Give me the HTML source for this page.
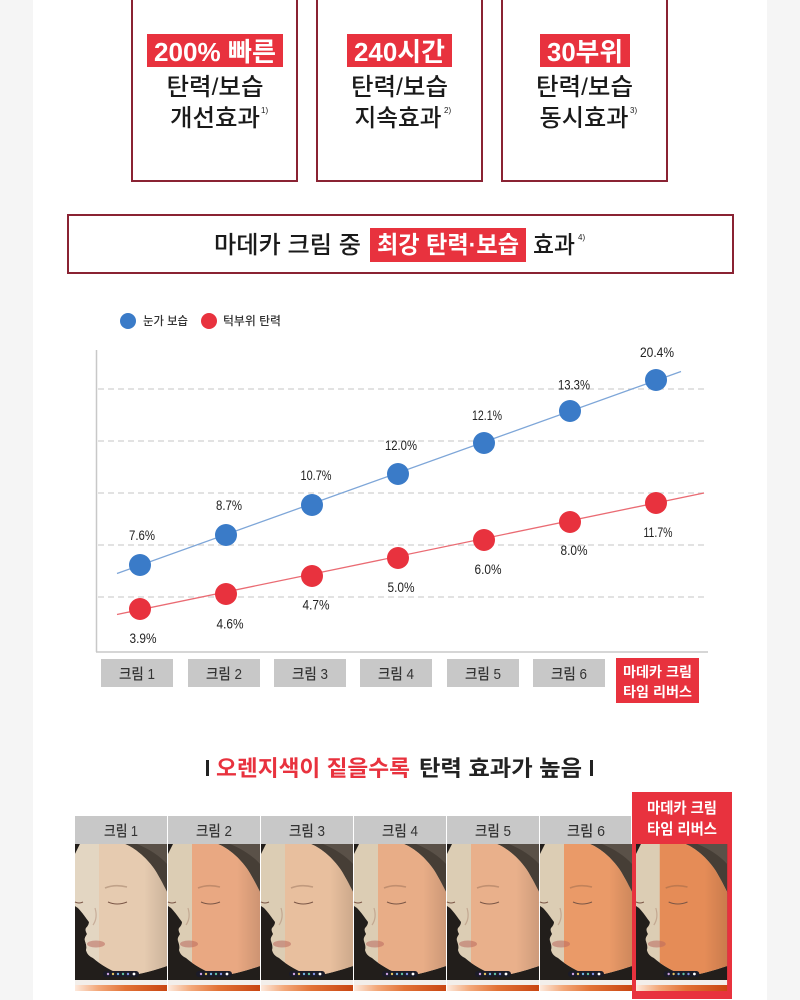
<!DOCTYPE html>
<html><head><meta charset="utf-8">
<style>
html,body{margin:0;padding:0;background:#fff;}
svg{display:block;}
text{font-family:"Liberation Sans","Noto Sans CJK KR",sans-serif;}
</style></head>
<body>
<svg width="800" height="1000" viewBox="0 0 800 1000" xmlns="http://www.w3.org/2000/svg">
<defs>
  <clipPath id="fc"><path d="M5,0 L50,0 C60,4 72,14 80,26 C85,34 89,42 92,48 L92,122 C80,126 64,131 50,132 C38,128 26,121 18,114 C14,112 12,110 11,106 C12,103 11,100 10,97 C9,94 11,92 12,90 C11,88 10,86 11,84 C13,82 14,80 14,78 C11,74 7,68 3,64 L0,62 L0,10 Z"/></clipPath>
  <linearGradient id="gb" x1="0" x2="1" y1="0" y2="0">
    <stop offset="0" stop-color="#fde9dc"/>
    <stop offset="0.25" stop-color="#f3a87a"/>
    <stop offset="0.55" stop-color="#e27236"/>
    <stop offset="1" stop-color="#c94612"/>
  </linearGradient>
  <linearGradient id="sh" x1="0" x2="1" y1="0" y2="0">
    <stop offset="0" stop-color="#000" stop-opacity="0"/>
    <stop offset="0.75" stop-color="#000" stop-opacity="0"/>
    <stop offset="1" stop-color="#000" stop-opacity="0.12"/>
  </linearGradient>
  <g id="base">
    <rect width="92" height="136" fill="#221e1b"/>
    <path d="M48,0 L92,0 L92,50 C89,42 85,34 80,26 C72,14 60,4 48,0Z" fill="#463e36"/>
    <path d="M62,0 L92,0 L92,20 C85,12 74,5 62,0Z" fill="#5a5148"/>
    <path d="M5,0 L50,0 C60,4 72,14 80,26 C85,34 89,42 92,48 L92,122 C80,126 64,131 50,132 C38,128 26,121 18,114 C14,112 12,110 11,106 C12,103 11,100 10,97 C9,94 11,92 12,90 C11,88 10,86 11,84 C13,82 14,80 14,78 C11,74 7,68 3,64 L0,62 L0,10 Z" fill="#dccdb4"/>
  </g>
  <g id="feat">
    <rect x="0" y="0" width="92" height="136" fill="url(#sh)" clip-path="url(#fc)"/>
    <path d="M30,44 Q40,40 52,43" stroke="rgba(120,85,65,0.35)" stroke-width="1.6" fill="none"/>
    <path d="M33,58 Q42,62 52,58" stroke="#7a5646" stroke-width="1" fill="none"/>
    <path d="M0,58 Q4,60 8,58" stroke="#7a5646" stroke-width="1" fill="none"/>
    <path d="M20,64 Q23,74 18,81" stroke="rgba(150,100,80,0.35)" stroke-width="1.2" fill="none"/>
    <ellipse cx="21" cy="100" rx="9" ry="3.5" fill="rgba(185,105,95,0.55)"/>
    <rect x="28" y="127" width="36" height="6" rx="3" fill="#1b1b28"/>
    <circle cx="33" cy="130" r="1.2" fill="#c9a0e0"/>
    <circle cx="38" cy="130" r="1.2" fill="#e0c060"/>
    <circle cx="43" cy="130" r="1.2" fill="#70b0e0"/>
    <circle cx="48" cy="130" r="1.2" fill="#60c0a0"/>
    <circle cx="53" cy="130" r="1.2" fill="#8090e0"/>
    <circle cx="59" cy="130" r="1.4" fill="#ffffff"/>
  </g>
  <g id="strip">
    <rect y="136" width="92" height="5" fill="#f3efeb"/>
    <rect y="141" width="92" height="6" fill="url(#gb)"/>
  </g>
</defs>

<!-- page background -->
<rect x="0" y="0" width="800" height="1000" fill="#f5f5f5"/>
<rect x="33" y="0" width="734" height="1000" fill="#ffffff"/>

<!-- top boxes -->
<rect x="132" y="-10" width="165" height="191" fill="#fff" stroke="#8a2333" stroke-width="2"/>
<rect x="317" y="-10" width="165" height="191" fill="#fff" stroke="#8a2333" stroke-width="2"/>
<rect x="502" y="-10" width="165" height="191" fill="#fff" stroke="#8a2333" stroke-width="2"/>

<rect x="147" y="34" width="136" height="33" fill="#e8323e"/>
<text x="215" y="61" text-anchor="middle" font-size="26" font-weight="bold" fill="#fff" textLength="122" lengthAdjust="spacingAndGlyphs">200% 빠른</text>
<rect x="347" y="34" width="105" height="33" fill="#e8323e"/>
<text x="399.5" y="61" text-anchor="middle" font-size="26" font-weight="bold" fill="#fff" textLength="91" lengthAdjust="spacingAndGlyphs">240시간</text>
<rect x="540" y="34" width="90" height="33" fill="#e8323e"/>
<text x="585" y="61" text-anchor="middle" font-size="26" font-weight="bold" fill="#fff" textLength="76" lengthAdjust="spacingAndGlyphs">30부위</text>

<g font-size="24" font-weight="500" fill="#1a1a1a">
<text x="215" y="95" text-anchor="middle" textLength="97" lengthAdjust="spacingAndGlyphs">탄력/보습</text>
<text x="399.5" y="95" text-anchor="middle" textLength="97" lengthAdjust="spacingAndGlyphs">탄력/보습</text>
<text x="584.5" y="95" text-anchor="middle" textLength="97" lengthAdjust="spacingAndGlyphs">탄력/보습</text>
<text x="215" y="126" text-anchor="middle" textLength="90" lengthAdjust="spacingAndGlyphs">개선효과</text>
<text x="398" y="126" text-anchor="middle" textLength="87" lengthAdjust="spacingAndGlyphs">지속효과</text>
<text x="584" y="126" text-anchor="middle" textLength="89" lengthAdjust="spacingAndGlyphs">동시효과</text>
</g>
<text x="261" y="113" font-size="8" fill="#222">1)</text>
<text x="444" y="113" font-size="8" fill="#222">2)</text>
<text x="630" y="113" font-size="8" fill="#222">3)</text>

<!-- wide box -->
<rect x="68" y="215" width="665" height="58" fill="#fff" stroke="#8a2333" stroke-width="2"/>
<text x="214" y="253" font-size="24" font-weight="500" fill="#1a1a1a" textLength="147" lengthAdjust="spacingAndGlyphs">마데카 크림 중</text>
<rect x="370" y="228" width="156" height="34" fill="#e8323e"/>
<text x="377" y="253" font-size="24" font-weight="bold" fill="#fff" textLength="142" lengthAdjust="spacingAndGlyphs">최강 탄력·보습</text>
<text x="533" y="253" font-size="24" font-weight="500" fill="#1a1a1a" textLength="42" lengthAdjust="spacingAndGlyphs">효과</text>
<text x="578" y="240" font-size="8" fill="#222">4)</text>

<!-- legend -->
<circle cx="128" cy="321" r="8" fill="#3a7bc8"/>
<text x="143" y="325" font-size="12" font-weight="500" fill="#333" textLength="45" lengthAdjust="spacingAndGlyphs">눈가 보습</text>
<circle cx="209" cy="321" r="8" fill="#e8323e"/>
<text x="223" y="325" font-size="12" font-weight="500" fill="#333" textLength="58" lengthAdjust="spacingAndGlyphs">턱부위 탄력</text>

<!-- grid -->
<g stroke="#d0d0d0" stroke-width="1.2" stroke-dasharray="6 4">
  <line x1="98" y1="389" x2="705" y2="389"/>
  <line x1="98" y1="441" x2="705" y2="441"/>
  <line x1="98" y1="493" x2="705" y2="493"/>
  <line x1="98" y1="545" x2="705" y2="545"/>
  <line x1="98" y1="597" x2="705" y2="597"/>
</g>
<line x1="96.5" y1="350" x2="96.5" y2="652" stroke="#c8c8c8" stroke-width="1.5"/>
<line x1="96" y1="652" x2="708" y2="652" stroke="#c8c8c8" stroke-width="1.5"/>

<!-- lines -->
<line x1="117" y1="573.5" x2="681" y2="371.5" stroke="#7ea6d8" stroke-width="1.3"/>
<line x1="117" y1="614.5" x2="704" y2="493" stroke="#ea6b73" stroke-width="1.3"/>

<!-- points -->
<g fill="#3a7bc8">
  <circle cx="140" cy="565" r="11"/>
  <circle cx="226" cy="535" r="11"/>
  <circle cx="312" cy="505" r="11"/>
  <circle cx="398" cy="474" r="11"/>
  <circle cx="484" cy="443" r="11"/>
  <circle cx="570" cy="411" r="11"/>
  <circle cx="656" cy="380" r="11"/>
</g>
<g fill="#e8323e">
  <circle cx="140" cy="609" r="11"/>
  <circle cx="226" cy="594" r="11"/>
  <circle cx="312" cy="576" r="11"/>
  <circle cx="398" cy="558" r="11"/>
  <circle cx="484" cy="540" r="11"/>
  <circle cx="570" cy="522" r="11"/>
  <circle cx="656" cy="503" r="11"/>
</g>

<!-- value labels -->
<g font-size="14" fill="#222" text-anchor="middle">
  <text x="142" y="540" textLength="26" lengthAdjust="spacingAndGlyphs">7.6%</text>
  <text x="229" y="510" textLength="26" lengthAdjust="spacingAndGlyphs">8.7%</text>
  <text x="316" y="480" textLength="31" lengthAdjust="spacingAndGlyphs">10.7%</text>
  <text x="401" y="450" textLength="32" lengthAdjust="spacingAndGlyphs">12.0%</text>
  <text x="487" y="420" textLength="30" lengthAdjust="spacingAndGlyphs">12.1%</text>
  <text x="574" y="389.5" textLength="32" lengthAdjust="spacingAndGlyphs">13.3%</text>
  <text x="657" y="357" textLength="34" lengthAdjust="spacingAndGlyphs">20.4%</text>

  <text x="143" y="643" textLength="27" lengthAdjust="spacingAndGlyphs">3.9%</text>
  <text x="230" y="628.5" textLength="27" lengthAdjust="spacingAndGlyphs">4.6%</text>
  <text x="316" y="609.5" textLength="27" lengthAdjust="spacingAndGlyphs">4.7%</text>
  <text x="401" y="592" textLength="27" lengthAdjust="spacingAndGlyphs">5.0%</text>
  <text x="488" y="574" textLength="27" lengthAdjust="spacingAndGlyphs">6.0%</text>
  <text x="574" y="555" textLength="27" lengthAdjust="spacingAndGlyphs">8.0%</text>
  <text x="658" y="537" textLength="29" lengthAdjust="spacingAndGlyphs">11.7%</text>
</g>

<!-- category boxes -->
<g fill="#c8c8c8">
  <rect x="101" y="659" width="72" height="28"/>
  <rect x="188" y="659" width="72" height="28"/>
  <rect x="274" y="659" width="72" height="28"/>
  <rect x="360" y="659" width="72" height="28"/>
  <rect x="447" y="659" width="72" height="28"/>
  <rect x="533" y="659" width="72" height="28"/>
</g>
<g font-size="15" font-weight="500" fill="#333" text-anchor="middle">
  <text x="137" y="679" textLength="36" lengthAdjust="spacingAndGlyphs">크림 1</text>
  <text x="224" y="679" textLength="36" lengthAdjust="spacingAndGlyphs">크림 2</text>
  <text x="310" y="679" textLength="36" lengthAdjust="spacingAndGlyphs">크림 3</text>
  <text x="396" y="679" textLength="36" lengthAdjust="spacingAndGlyphs">크림 4</text>
  <text x="483" y="679" textLength="36" lengthAdjust="spacingAndGlyphs">크림 5</text>
  <text x="569" y="679" textLength="36" lengthAdjust="spacingAndGlyphs">크림 6</text>
</g>
<rect x="616" y="658" width="83" height="45" fill="#e8323e"/>
<text x="657.5" y="677" text-anchor="middle" font-size="14" font-weight="bold" fill="#fff" textLength="69" lengthAdjust="spacingAndGlyphs">마데카 크림</text>
<text x="657.5" y="697" text-anchor="middle" font-size="14" font-weight="bold" fill="#fff" textLength="69" lengthAdjust="spacingAndGlyphs">타임 리버스</text>

<!-- section title -->
<g font-size="22" font-weight="bold">
  <rect x="206" y="760" width="3" height="16" fill="#222"/>
  <text x="216" y="776" fill="#e8323e" textLength="194" lengthAdjust="spacingAndGlyphs">오렌지색이 짙을수록</text>
  <text x="419" y="776" fill="#222" textLength="163" lengthAdjust="spacingAndGlyphs">탄력 효과가 높음</text>
  <rect x="590" y="760" width="3" height="16" fill="#222"/>
</g>

<!-- photo strip -->
<rect x="632" y="792" width="100" height="207" fill="#e8323e"/>
<g fill="#c8c8c8">
  <rect x="75" y="816" width="92" height="28"/>
  <rect x="168" y="816" width="92" height="28"/>
  <rect x="261" y="816" width="92" height="28"/>
  <rect x="354" y="816" width="92" height="28"/>
  <rect x="447" y="816" width="92" height="28"/>
  <rect x="540" y="816" width="91" height="28"/>
</g>
<g font-size="15" font-weight="500" fill="#333" text-anchor="middle">
  <text x="121" y="836" textLength="34" lengthAdjust="spacingAndGlyphs">크림 1</text>
  <text x="214" y="836" textLength="36" lengthAdjust="spacingAndGlyphs">크림 2</text>
  <text x="307" y="836" textLength="36" lengthAdjust="spacingAndGlyphs">크림 3</text>
  <text x="400" y="836" textLength="36" lengthAdjust="spacingAndGlyphs">크림 4</text>
  <text x="493" y="836" textLength="36" lengthAdjust="spacingAndGlyphs">크림 5</text>
  <text x="586" y="836" textLength="38" lengthAdjust="spacingAndGlyphs">크림 6</text>
</g>
<text x="682" y="813" text-anchor="middle" font-size="15" font-weight="bold" fill="#fff" textLength="70" lengthAdjust="spacingAndGlyphs">마데카 크림</text>
<text x="682" y="834" text-anchor="middle" font-size="15" font-weight="bold" fill="#fff" textLength="70" lengthAdjust="spacingAndGlyphs">타임 리버스</text>

<g transform="translate(75,844)"><use href="#base"/><rect x="0" y="0" width="24" height="136" fill="#e3d6c2" clip-path="url(#fc)"/><rect x="24" y="0" width="68" height="136" fill="#e6cbb0" clip-path="url(#fc)"/><use href="#feat"/><use href="#strip"/></g>
<g transform="translate(168,844)"><use href="#base"/><rect x="24" y="0" width="68" height="136" fill="#e9a882" clip-path="url(#fc)"/><use href="#feat"/><use href="#strip"/></g>
<g transform="translate(261,844)"><use href="#base"/><rect x="24" y="0" width="68" height="136" fill="#e8bf9e" clip-path="url(#fc)"/><use href="#feat"/><use href="#strip"/></g>
<g transform="translate(354,844)"><use href="#base"/><rect x="24" y="0" width="68" height="136" fill="#e8ad87" clip-path="url(#fc)"/><use href="#feat"/><use href="#strip"/></g>
<g transform="translate(447,844)"><use href="#base"/><rect x="24" y="0" width="68" height="136" fill="#e9b08b" clip-path="url(#fc)"/><use href="#feat"/><use href="#strip"/></g>
<g transform="translate(540,844)"><use href="#base"/><rect x="24" y="0" width="68" height="136" fill="#ea9a68" clip-path="url(#fc)"/><use href="#feat"/><use href="#strip"/></g>
<g transform="translate(636,844) scale(0.99,1)"><use href="#base"/><rect x="24" y="0" width="68" height="136" fill="#e58c57" clip-path="url(#fc)"/><use href="#feat"/><use href="#strip"/></g>
</svg>
</body></html>
